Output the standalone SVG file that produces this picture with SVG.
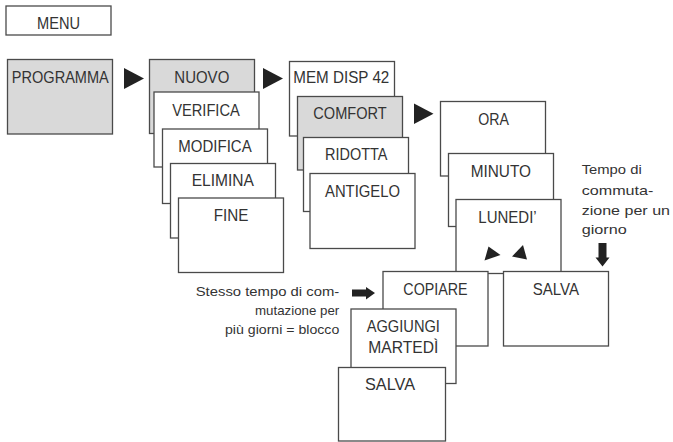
<svg xmlns="http://www.w3.org/2000/svg" width="673" height="442" viewBox="0 0 673 442">
<style>
.box{fill:#ffffff;stroke:#4a4a4a;stroke-width:1.3}
.gbox{fill:#d9d9d9;stroke:#4a4a4a;stroke-width:1.3}
.lbl{font-family:"Liberation Sans",Arial,sans-serif;font-size:17px;fill:#333333;text-anchor:middle}
.note{font-family:"Liberation Sans",Arial,sans-serif;font-size:13.5px;fill:#333333}
.tri{fill:#222222;stroke:none}
</style>
<rect width="673" height="442" fill="#ffffff"/>
<g id="menu"><rect class="box" x="6" y="6" width="105" height="29"/><text class="lbl" x="58.5" y="29.3" textLength="43" lengthAdjust="spacingAndGlyphs">MENU</text></g>
<g id="programma"><rect class="gbox" x="7.5" y="59.5" width="105" height="74.5"/><text class="lbl" x="60.3" y="82.7" textLength="97" lengthAdjust="spacingAndGlyphs">PROGRAMMA</text></g>
<g id="nuovo"><rect class="gbox" x="149.5" y="59.5" width="105" height="74"/><text class="lbl" x="201.8" y="82.7" textLength="55" lengthAdjust="spacingAndGlyphs">NUOVO</text></g>
<g id="verifica"><rect class="box" x="154" y="92" width="105" height="75"/><text class="lbl" x="206" y="115.7" textLength="67.7" lengthAdjust="spacingAndGlyphs">VERIFICA</text></g>
<g id="modifica"><rect class="box" x="162.5" y="129" width="105" height="74.5"/><text class="lbl" x="215" y="151.7" textLength="73.3" lengthAdjust="spacingAndGlyphs">MODIFICA</text></g>
<g id="elimina"><rect class="box" x="170.5" y="163.5" width="105" height="74.5"/><text class="lbl" x="222.8" y="186" textLength="62.3" lengthAdjust="spacingAndGlyphs">ELIMINA</text></g>
<g id="fine"><rect class="box" x="178.5" y="198" width="105" height="74.5"/><text class="lbl" x="231" y="220.7" textLength="34.7" lengthAdjust="spacingAndGlyphs">FINE</text></g>
<g id="memdisp"><rect class="box" x="289.5" y="61.5" width="105" height="74.5"/><text class="lbl" x="341.3" y="83.3" textLength="96" lengthAdjust="spacingAndGlyphs">MEM DISP 42</text></g>
<g id="comfort"><rect class="gbox" x="297.5" y="96.5" width="105" height="73.5"/><text class="lbl" x="350" y="119.3" textLength="73.3" lengthAdjust="spacingAndGlyphs">COMFORT</text></g>
<g id="ridotta"><rect class="box" x="303.5" y="137.5" width="105" height="74"/><text class="lbl" x="356.2" y="160" textLength="62.3" lengthAdjust="spacingAndGlyphs">RIDOTTA</text></g>
<g id="antigelo"><rect class="box" x="310" y="173.5" width="105" height="75"/><text class="lbl" x="362.5" y="196.7" textLength="75" lengthAdjust="spacingAndGlyphs">ANTIGELO</text></g>
<g id="ora"><rect class="box" x="440.5" y="101.5" width="105" height="74.5"/><text class="lbl" x="493.7" y="125" textLength="30.7" lengthAdjust="spacingAndGlyphs">ORA</text></g>
<g id="minuto"><rect class="box" x="448.5" y="153.5" width="105" height="73"/><text class="lbl" x="500.8" y="176.7" textLength="60.3" lengthAdjust="spacingAndGlyphs">MINUTO</text></g>
<g id="lunedi"><rect class="box" x="456" y="199.5" width="105" height="74"/><text class="lbl" x="507.5" y="223.3" textLength="58.3" lengthAdjust="spacingAndGlyphs">LUNEDI’</text></g>
<g id="copiare"><rect class="box" x="383" y="271.5" width="105" height="74.5"/><text class="lbl" x="435.5" y="295" textLength="64.3" lengthAdjust="spacingAndGlyphs">COPIARE</text></g>
<g id="salva1"><rect class="box" x="503.5" y="271.5" width="105" height="74.5"/><text class="lbl" x="555.8" y="295" textLength="46.3" lengthAdjust="spacingAndGlyphs">SALVA</text></g>
<g id="aggiungi"><rect class="box" x="351" y="309" width="105" height="74.5"/><text class="lbl" x="403.3" y="331.7" textLength="73.3" lengthAdjust="spacingAndGlyphs">AGGIUNGI</text><text class="lbl" x="403.3" y="353.3" textLength="70" lengthAdjust="spacingAndGlyphs">MARTEDÌ</text></g>
<g id="salva2"><rect class="box" x="338.5" y="367.5" width="107" height="73.5"/><text class="lbl" x="390" y="390" textLength="50" lengthAdjust="spacingAndGlyphs">SALVA</text></g>
<g id="note-block" class="note">
<text x="195.7" y="296" textLength="143.6" lengthAdjust="spacingAndGlyphs">Stesso tempo di com-</text>
<text x="255" y="315" textLength="84.3" lengthAdjust="spacingAndGlyphs">mutazione per</text>
<text x="225" y="334" textLength="114.3" lengthAdjust="spacingAndGlyphs">più giorni = blocco</text>
</g>
<g id="note-day" class="note">
<text x="581.7" y="174.3" textLength="60" lengthAdjust="spacingAndGlyphs">Tempo di</text>
<text x="581.7" y="194.5" textLength="71.7" lengthAdjust="spacingAndGlyphs">commuta-</text>
<text x="581.7" y="214.5" textLength="88.3" lengthAdjust="spacingAndGlyphs">zione per un</text>
<text x="581.7" y="233.5" textLength="45" lengthAdjust="spacingAndGlyphs">giorno</text>
</g>
<g id="connectors">
<polygon class="tri" points="124,68 124,89 144,78.5"/>
<polygon class="tri" points="263,68 263,89 283,78.5"/>
<polygon class="tri" points="414,103.5 414,124 433.5,113.7"/>
<polygon class="tri" points="488.5,246.5 500.5,255 484.5,260.5"/>
<polygon class="tri" points="523,245 527,259.5 512,256.5"/>
<polygon class="tri" points="352,289.5 366,289.5 366,287 375,293 366,299.5 366,296.5 352,296.5"/>
<polygon class="tri" points="598.5,243 606.5,243 606.5,257.5 609.5,257.5 602.5,266.5 595.5,257.5 598.5,257.5"/>
</g>
</svg>
